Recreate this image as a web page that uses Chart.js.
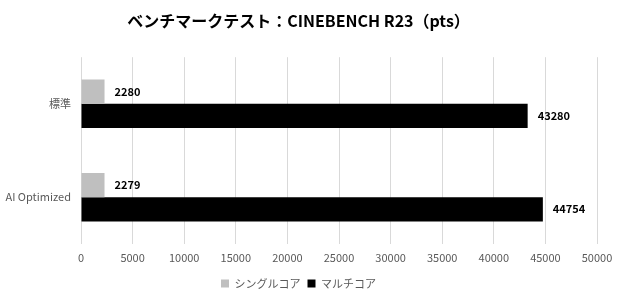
<!DOCTYPE html>
<html><head><meta charset="utf-8">
<script src="https://cdn.jsdelivr.net/npm/chart.js@4/dist/chart.umd.min.js"></script>
<style>html,body{margin:0;padding:0;background:#fff}#wrap{width:620px;height:300px}</style>
</head><body><div id="wrap"><canvas id="c" width="620" height="300"></canvas></div>
<script>
const categories = ["標準", "AI Optimized"];
const singleCore = [2280, 2279];
const multiCore = [43280, 44754];
const seriesNames = ["シングルコア", "マルチコア"];
const titleText = "ベンチマークテスト：CINEBENCH R23（pts）";
const FONT = "'Noto Sans CJK JP', 'Noto Sans', sans-serif";

const valueLabels = {
  id: 'valueLabels',
  afterDatasetsDraw(chart) {
    const ctx = chart.ctx;
    ctx.save();
    ctx.font = "bold 11px " + FONT;
    ctx.fillStyle = "#000";
    ctx.textBaseline = "middle";
    ctx.textAlign = "left";
    chart.data.datasets.forEach((ds, i) => {
      chart.getDatasetMeta(i).data.forEach((bar, j) => {
        ctx.fillText(String(ds.data[j]), bar.x + 10, bar.y);
      });
    });
    ctx.restore();
  }
};

new Chart(document.getElementById('c'), {
  type: 'bar',
  data: {
    labels: categories,
    datasets: [
      { label: seriesNames[0], data: singleCore, backgroundColor: '#bfbfbf' },
      { label: seriesNames[1], data: multiCore, backgroundColor: '#000000' }
    ]
  },
  options: {
    indexAxis: 'y',
    responsive: false,
    animation: false,
    devicePixelRatio: 1,
    layout: { padding: { left: 0, right: 23, top: 8, bottom: 1 } },
    datasets: { bar: { barPercentage: 1.0, categoryPercentage: 0.52 } },
    plugins: {
      title: { display: true, text: titleText, color: '#000', font: { family: FONT, size: 16, weight: 'bold' }, padding: { top: 3, bottom: 27 } },
      legend: {
        position: 'bottom',
        labels: { boxWidth: 8, boxHeight: 8, color: '#595959', font: { family: FONT, size: 11 }, padding: 7 }
      },
      tooltip: { enabled: false }
    },
    scales: {
      x: {
        min: 0, max: 50000,
        ticks: { stepSize: 5000, color: '#595959', font: { family: FONT, size: 11 }, padding: 7, maxRotation: 0, callback: (v) => String(v) },
        grid: { color: '#d9d9d9', drawTicks: false },
        border: { display: false }
      },
      y: {
        ticks: { color: '#595959', font: { family: FONT, size: 11 }, padding: 10 },
        grid: { display: false, drawTicks: false },
        border: { display: false },
        afterFit(s) { s.width = 81; }
      }
    }
  },
  plugins: [valueLabels]
});
</script></body></html>
